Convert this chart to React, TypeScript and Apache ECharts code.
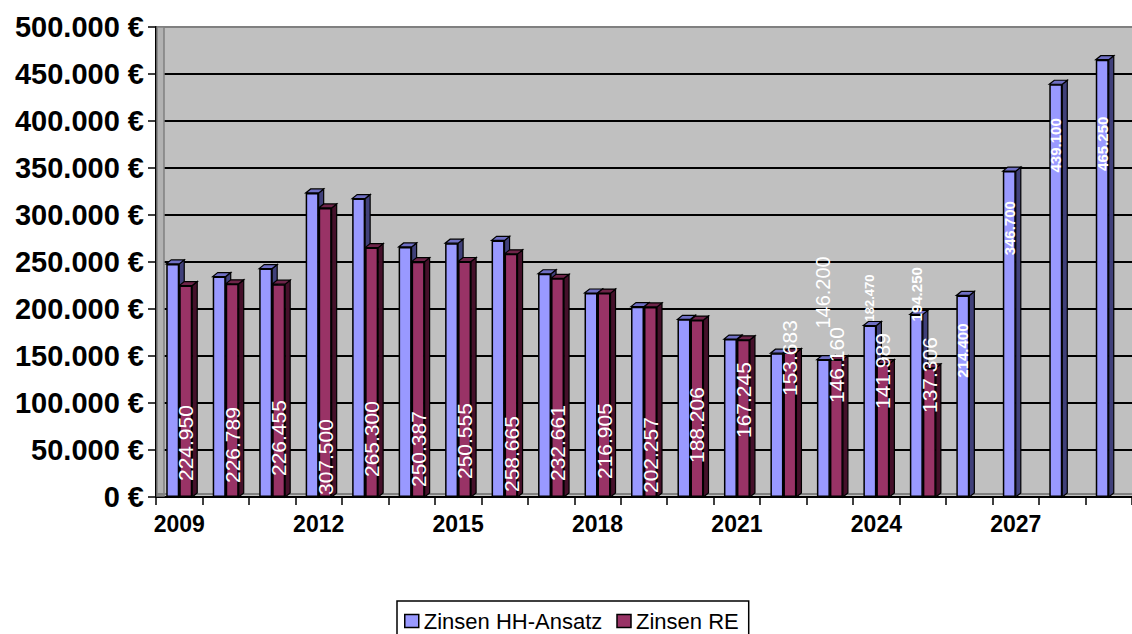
import React, { useEffect, useRef } from "react";
import * as echarts from "echarts";

// ---- data ----
const years = ["2009","2010","2011","2012","2013","2014","2015","2016","2017","2018","2019","2020","2021","2022","2023","2024","2025","2026","2027","2028","2029"];
const hhAnsatz = [248000, 234500, 243000, 323500, 317500, 266000, 270000, 273000, 237500, 217000, 202500, 189000, 168000, 153000, 146200, 182470, 194250, 214400, 346700, 439100, 465250];
const reValues: (number | null)[] = [224950, 226789, 226455, 307500, 265300, 250387, 250555, 258665, 232661, 216905, 202257, 188206, 167245, 153683, 146160, 141989, 137306, null, null, null, null];
const seriesNames = ["Zinsen HH-Ansatz", "Zinsen RE"];
const yMin = 0;
const yMax = 500000;
const yStep = 50000;

// ---- label styling (placement of the value labels, by year) ----
const reLabelLift: Record<string, number> = {
  "2009": 16, "2010": 14, "2011": 21, "2012": 2, "2013": 20, "2014": 10, "2015": 18, "2016": 5,
  "2017": 16, "2018": 18, "2019": 4, "2020": 34, "2021": 59, "2022": 101, "2023": 94, "2024": 88, "2025": 84,
};
const hhLabelStyle: Record<string, { pos: string; dist: number; size: number; bold: boolean }> = {
  "2023": { pos: "top", dist: 31, size: 20, bold: false },
  "2024": { pos: "top", dist: 4, size: 13, bold: true },
  "2025": { pos: "top", dist: -7, size: 15, bold: true },
  "2026": { pos: "insideTop", dist: 28, size: 15, bold: true },
  "2027": { pos: "insideTop", dist: 30, size: 15, bold: true },
  "2028": { pos: "insideTop", dist: 34, size: 15, bold: true },
  "2029": { pos: "insideTop", dist: 57, size: 15, bold: true },
};

const FONT = "'Liberation Sans', Arial, sans-serif";
const HH_COLOR = "#9999FF";
const RE_COLOR = "#993366";
const BAR_W = 13;
const DX = 5;
const DY = -4;

const fmt = (v: number) => String(Math.round(v)).replace(/\B(?=(\d{3})+(?!\d))/g, ".");

export default function App() {
  const ref = useRef<HTMLDivElement>(null);
  useEffect(() => {
    if (!ref.current) return;
    const chart = echarts.init(ref.current, undefined, { renderer: "svg" });

    const hhData = hhAnsatz.map((v, i) => {
      const st = hhLabelStyle[years[i]];
      if (!st) return { value: v };
      const inside = st.pos === "insideTop";
      return {
        value: v,
        label: {
          show: true,
          position: st.pos,
          distance: st.dist,
          rotate: 90,
          align: inside ? "right" : "left",
          verticalAlign: "middle",
          color: "#fff",
          fontSize: st.size,
          fontWeight: st.bold ? "bold" : "normal",
          fontFamily: FONT,
          formatter: (p: any) => fmt(p.value),
        },
      };
    });

    const reData = reValues.map((v, i) => {
      if (v === null) return { value: null };
      return {
        value: v,
        label: {
          show: true,
          position: "insideBottom",
          distance: reLabelLift[years[i]] ?? 14,
          rotate: 90,
          align: "left",
          verticalAlign: "middle",
          color: "#fff",
          fontSize: 21,
          fontFamily: FONT,
          formatter: (p: any) => fmt(p.value),
        },
      };
    });

    const faceData = years.map((_, i) => [i, hhAnsatz[i], reValues[i] === null ? NaN : reValues[i]]);

    const splitColors: string[] = [];
    for (let v = yMin; v <= yMax; v += yStep) splitColors.push(v === yMax ? "#808080" : "#000000");

    const option: any = {
      animation: false,
      backgroundColor: "#ffffff",
      textStyle: { fontFamily: FONT },
      grid: {
        left: 156,
        top: 27,
        width: 980,
        height: 470,
        show: true,
        backgroundColor: "#C0C0C0",
        borderWidth: 0,
      },
      legend: {
        data: seriesNames,
        left: 397,
        top: 601,
        orient: "horizontal",
        icon: "rect",
        itemWidth: 14,
        itemHeight: 13,
        itemGap: 14,
        backgroundColor: "#ffffff",
        borderColor: "#000000",
        borderWidth: 1.5,
        borderRadius: 0,
        padding: [9, 10, 10, 7],
        itemStyle: { borderColor: "#000000", borderWidth: 1.5 },
        textStyle: { fontSize: 22, color: "#000", fontFamily: FONT },
      },
      xAxis: {
        type: "category",
        data: years,
        boundaryGap: true,
        axisLine: { show: true, lineStyle: { color: "#000", width: 2 } },
        axisTick: { show: true, interval: 0, length: 8, lineStyle: { color: "#000", width: 1.5 } },
        axisLabel: {
          interval: 2,
          fontSize: 23,
          fontWeight: "bold",
          color: "#000",
          margin: 15,
          fontFamily: FONT,
        },
        splitLine: { show: false },
      },
      yAxis: {
        type: "value",
        min: yMin,
        max: yMax,
        interval: yStep,
        axisLine: { show: true, lineStyle: { color: "#000", width: 2 } },
        axisTick: { show: true, length: 8, lineStyle: { color: "#000", width: 1.5 } },
        axisLabel: {
          fontSize: 29,
          fontWeight: "bold",
          color: "#000",
          margin: 12,
          fontFamily: FONT,
          formatter: (v: number) => fmt(v) + " €",
        },
        splitLine: { show: true, lineStyle: { color: splitColors, width: 2 } },
      },
      graphic: [
        {
          type: "rect",
          z: 1,
          shape: { x: 157, y: 27, width: 7, height: 469 },
          style: { fill: "#b2b2b2", stroke: "#808080", lineWidth: 1.5 },
          silent: true,
        },
        {
          type: "line",
          z: 1,
          shape: { x1: 157, y1: 494, x2: 1132, y2: 494 },
          style: { stroke: "#808080", lineWidth: 2 },
          silent: true,
        },
      ],
      series: [
        {
          type: "custom",
          silent: true,
          z: 1,
          data: faceData,
          encode: { x: 0, y: [1, 2] },
          renderItem: (params: any, api: any) => {
            const i = api.value(0);
            const hh = api.value(1);
            const re = api.value(2);
            const cx = api.coord([i, 0])[0];
            const y0 = api.coord([i, 0])[1];
            const children: any[] = [];
            const faces = (x0: number, v: number, top: string, side: string) => {
              const yt = api.coord([i, v])[1];
              children.push({
                type: "polygon",
                shape: { points: [[x0 + BAR_W, yt], [x0 + BAR_W + DX, yt + DY], [x0 + BAR_W + DX, y0 + DY], [x0 + BAR_W, y0]] },
                style: { fill: side, stroke: "#000", lineWidth: 1.2 },
              });
              children.push({
                type: "polygon",
                shape: { points: [[x0, yt], [x0 + BAR_W, yt], [x0 + BAR_W + DX, yt + DY], [x0 + DX, yt + DY]] },
                style: { fill: top, stroke: "#000", lineWidth: 1.2 },
              });
            };
            if (!isNaN(hh)) faces(cx - BAR_W, hh, "#6f6fc4", "#40407a");
            if (!isNaN(re)) faces(cx, re, "#6e2449", "#45102a");
            return { type: "group", children };
          },
        },
        {
          name: seriesNames[0],
          type: "bar",
          z: 2,
          barWidth: BAR_W,
          barGap: "0%",
          data: hhData,
          itemStyle: { color: HH_COLOR, borderColor: "#000", borderWidth: 1.5 },
        },
        {
          name: seriesNames[1],
          type: "bar",
          z: 2,
          barWidth: BAR_W,
          barGap: "0%",
          data: reData,
          itemStyle: { color: RE_COLOR, borderColor: "#000", borderWidth: 1.5 },
        },
      ],
    };

    chart.setOption(option);
    return () => chart.dispose();
  }, []);

  return (
    <div
      ref={ref}
      style={{ position: "absolute", left: 0, top: 0, width: 1132, height: 634, background: "#fff" }}
    />
  );
}
